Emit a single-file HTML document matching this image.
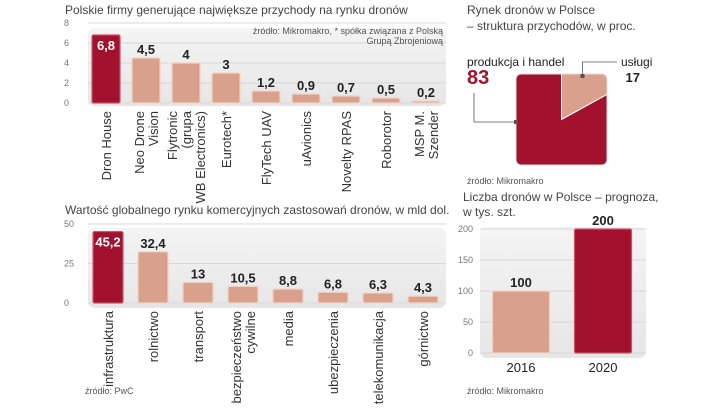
<!DOCTYPE html>
<html><head><meta charset="utf-8"><style>
body{margin:0;width:720px;height:406px;background:#fff;overflow:hidden;font-family:"Liberation Sans",sans-serif}
svg text{font-family:"Liberation Sans",sans-serif}
.t{font-size:12px;fill:#444}
.s{font-size:9px;fill:#555}
.tk{font-size:9px;fill:#777}
.v{font-size:13px;font-weight:bold;fill:#222}
.cl{font-size:13px;fill:#333}
</style></head><body>
<svg id="c" width="720" height="406" xmlns="http://www.w3.org/2000/svg">
<defs><linearGradient id="bg" x1="0" y1="0" x2="0" y2="1"><stop offset="0" stop-color="#f4f4f4"/><stop offset="1" stop-color="#e6e6e6"/></linearGradient></defs>
<text class="t" x="65" y="14">Polskie firmy generujące największe przychody na rynku dronów</text>
<text class="t" x="65" y="214">Wartość globalnego rynku komercyjnych zastosowań dronów, w mld dol.</text>
<text class="s" x="85" y="394">źródło: PwC</text>
<text class="t" x="467" y="14">Rynek dronów w Polsce</text>
<text class="t" x="467" y="30">– struktura przychodów, w proc.</text>
<text class="s" x="467" y="184">źródło: Mikromakro</text>
<text class="t" x="463" y="201">Liczba dronów w Polsce – prognoza,</text>
<text class="t" x="463" y="216">w tys. szt.</text>
<text class="s" x="467" y="394">źródło: Mikromakro</text>
<g id="g1"></g><g id="g2"></g><g id="g3"></g><g id="g4"></g>
<text class="s" x="443" y="34" text-anchor="end">źródło: Mikromakro, * spółka związana z Polską</text>
<text class="s" x="443" y="44" text-anchor="end">Grupą Zbrojeniową</text>
</svg>
<script>
const c1Cats=[["Dron House"],["Neo Drone","Vision"],["Flytronic","(grupa","WB Electronics)"],["Eurotech*"],["FlyTech UAV"],["uAvionics"],["Novelty RPAS"],["Roborotor"],["MSP M.","Szender"]];
const c1Vals=[6.8,4.5,4,3,1.2,0.9,0.7,0.5,0.2];
const c1Ticks=[0,2,4,6,8];
const c2Cats=[["infrastruktura"],["rolnictwo"],["transport"],["bezpieczeństwo","cywilne"],["media"],["ubezpieczenia"],["telekomunikacja"],["górnictwo"]];
const c2Vals=[45.2,32.4,13,10.5,8.8,6.8,6.3,4.3];
const c2Ticks=[0,25,50];
const pieCats=["produkcja i handel","usługi"];
const pieVals=[83,17];
const c4Cats=["2016","2020"];
const c4Vals=[100,200];
const c4Ticks=[0,50,100,150,200];
const NS="http://www.w3.org/2000/svg";
const DARK="#a2122f",LIGHT="#d9a08c";
function mk(p,tag,a,txt){const e=document.createElementNS(NS,tag);for(const k in a)e.setAttribute(k,a[k]);if(txt!=null)e.textContent=txt;p.appendChild(e);return e;}
const fmt=v=>String(v).replace('.',',');
function bars(g,o){
  const y=v=>o.y0-(v/o.max)*(o.y0-o.yTop);
  const bgr=mk(g,'rect',{x:o.bx,y:o.by,width:o.bw,height:o.bh,rx:7,fill:'url(#bg)'});
  
  
  o.ticks.forEach(t=>{
    const l=mk(g,'line',{x1:o.bx,x2:o.bx+o.bw,y1:y(t),y2:y(t),stroke:'#d8d8d8','stroke-width':1});
    
    
    const tx=mk(g,'text',{x:o.tx,y:y(t)+3,'class':'tk','text-anchor':o.ta||'start'},t);
    
    
  });
  o.vals.forEach((v,i)=>{
    const cx=o.x0+i*o.step, yt=y(v);
    const r=mk(g,'rect',{x:cx-o.w/2,y:yt,width:o.w,height:o.y0-yt,fill:i===o.dark?DARK:LIGHT,stroke:i===o.dark?'#c9546a':'#f3d2c6','stroke-width':1.2,rx:1.5});
    
    
    const inside=i===o.dark&&o.inside;
    const vt=mk(g,'text',{x:cx,y:inside?yt+15:yt-4,'class':'v','text-anchor':'middle',style:inside?'fill:#fff':''},fmt(v));
    
    
    const cat=o.cats[i];
    if(o.rot){
      const n=cat.length;
      cat.forEach((line,j)=>{
        const lx=cx+(j-(n-1)/2)*14+5;
        const lt=mk(g,'text',{x:lx,y:o.ly,'class':'cl','text-anchor':'end',transform:`rotate(-90 ${lx} ${o.ly})`},line);
        
        
      });
    } else {
      const lt=mk(g,'text',{x:cx,y:o.ly,'class':'cl','text-anchor':'middle',style:'font-size:13px;fill:#222'},cat);
      
      
    }
  });
}
bars(document.getElementById('g1'),{name:'firms',vals:c1Vals,cats:c1Cats,ticks:c1Ticks,max:8,y0:103,yTop:23,x0:106,step:40,w:28,bx:88,by:28,bw:358,bh:78,tx:64,dark:0,inside:true,rot:true,ly:111});
bars(document.getElementById('g2'),{name:'global',vals:c2Vals,cats:c2Cats,ticks:c2Ticks,max:50,y0:303,yTop:224,x0:108,step:45,w:30,bx:88,by:228,bw:358,bh:80,tx:64,dark:0,inside:true,rot:true,ly:311});
bars(document.getElementById('g4'),{name:'forecast',vals:c4Vals,cats:c4Cats,ticks:c4Ticks,max:200,y0:353,yTop:229,x0:521,step:82,w:57,bx:480,by:227,bw:166,bh:131,tx:473,ta:'end',dark:1,inside:false,rot:false,ly:372});
(function(){
  const g=document.getElementById('g3');
  const X=516,Y=74,S=91,cx=X+S/2,cy=Y+S/2;
  const cp=mk(g,'clipPath',{id:'sq'});mk(cp,'rect',{x:X,y:Y,width:S,height:S,rx:5});
  const total=pieVals.reduce((a,b)=>a+b,0);
  const R=S;
  const order=[1,0];let start=0;
  order.forEach(idx=>{
    const sw=pieVals[idx]/total*360;
    const a1=(start-90)*Math.PI/180,a2=(start+sw-90)*Math.PI/180;
    const d=`M${cx},${cy} L${cx+R*Math.cos(a1)},${cy+R*Math.sin(a1)} A${R},${R} 0 ${sw>180?1:0} 1 ${cx+R*Math.cos(a2)},${cy+R*Math.sin(a2)} Z`;
    const p=mk(g,'path',{d:d,fill:idx===0?DARK:LIGHT,'clip-path':'url(#sq)',stroke:'#fff','stroke-width':1});
    
    
    start+=sw;
  });
  mk(g,'rect',{x:X,y:Y,width:S,height:S,rx:5,fill:'none',stroke:'#ddd','stroke-width':1});
  mk(g,'polyline',{points:`${X},${Y+48} 474,${Y+48} 474,${Y+19}`,fill:'none',stroke:'#555','stroke-width':0.8});
  mk(g,'rect',{x:X-2,y:Y+46,width:4,height:4,fill:'#555'});
  mk(g,'polyline',{points:`${cx+21},${Y+2} ${cx+21},${Y-12} ${617},${Y-12}`,fill:'none',stroke:'#555','stroke-width':0.8});
  mk(g,'rect',{x:cx+19,y:Y,width:4,height:4,fill:'#555'});
  const l1=mk(g,'text',{x:467,y:66,'class':'cl',style:'font-size:12px;fill:#222'},pieCats[0]);
  
  
  const v1=mk(g,'text',{x:467,y:84,style:'font-size:20px;font-weight:bold;fill:'+DARK},pieVals[0]);
  
  
  const l2=mk(g,'text',{x:621,y:66,'class':'cl',style:'font-size:12px;fill:#222'},pieCats[1]);
  
  
  const v2=mk(g,'text',{x:640,y:82,'text-anchor':'end',style:'font-size:13px;font-weight:bold;fill:#222'},pieVals[1]);
  
  
})();
</script>
</body></html>
